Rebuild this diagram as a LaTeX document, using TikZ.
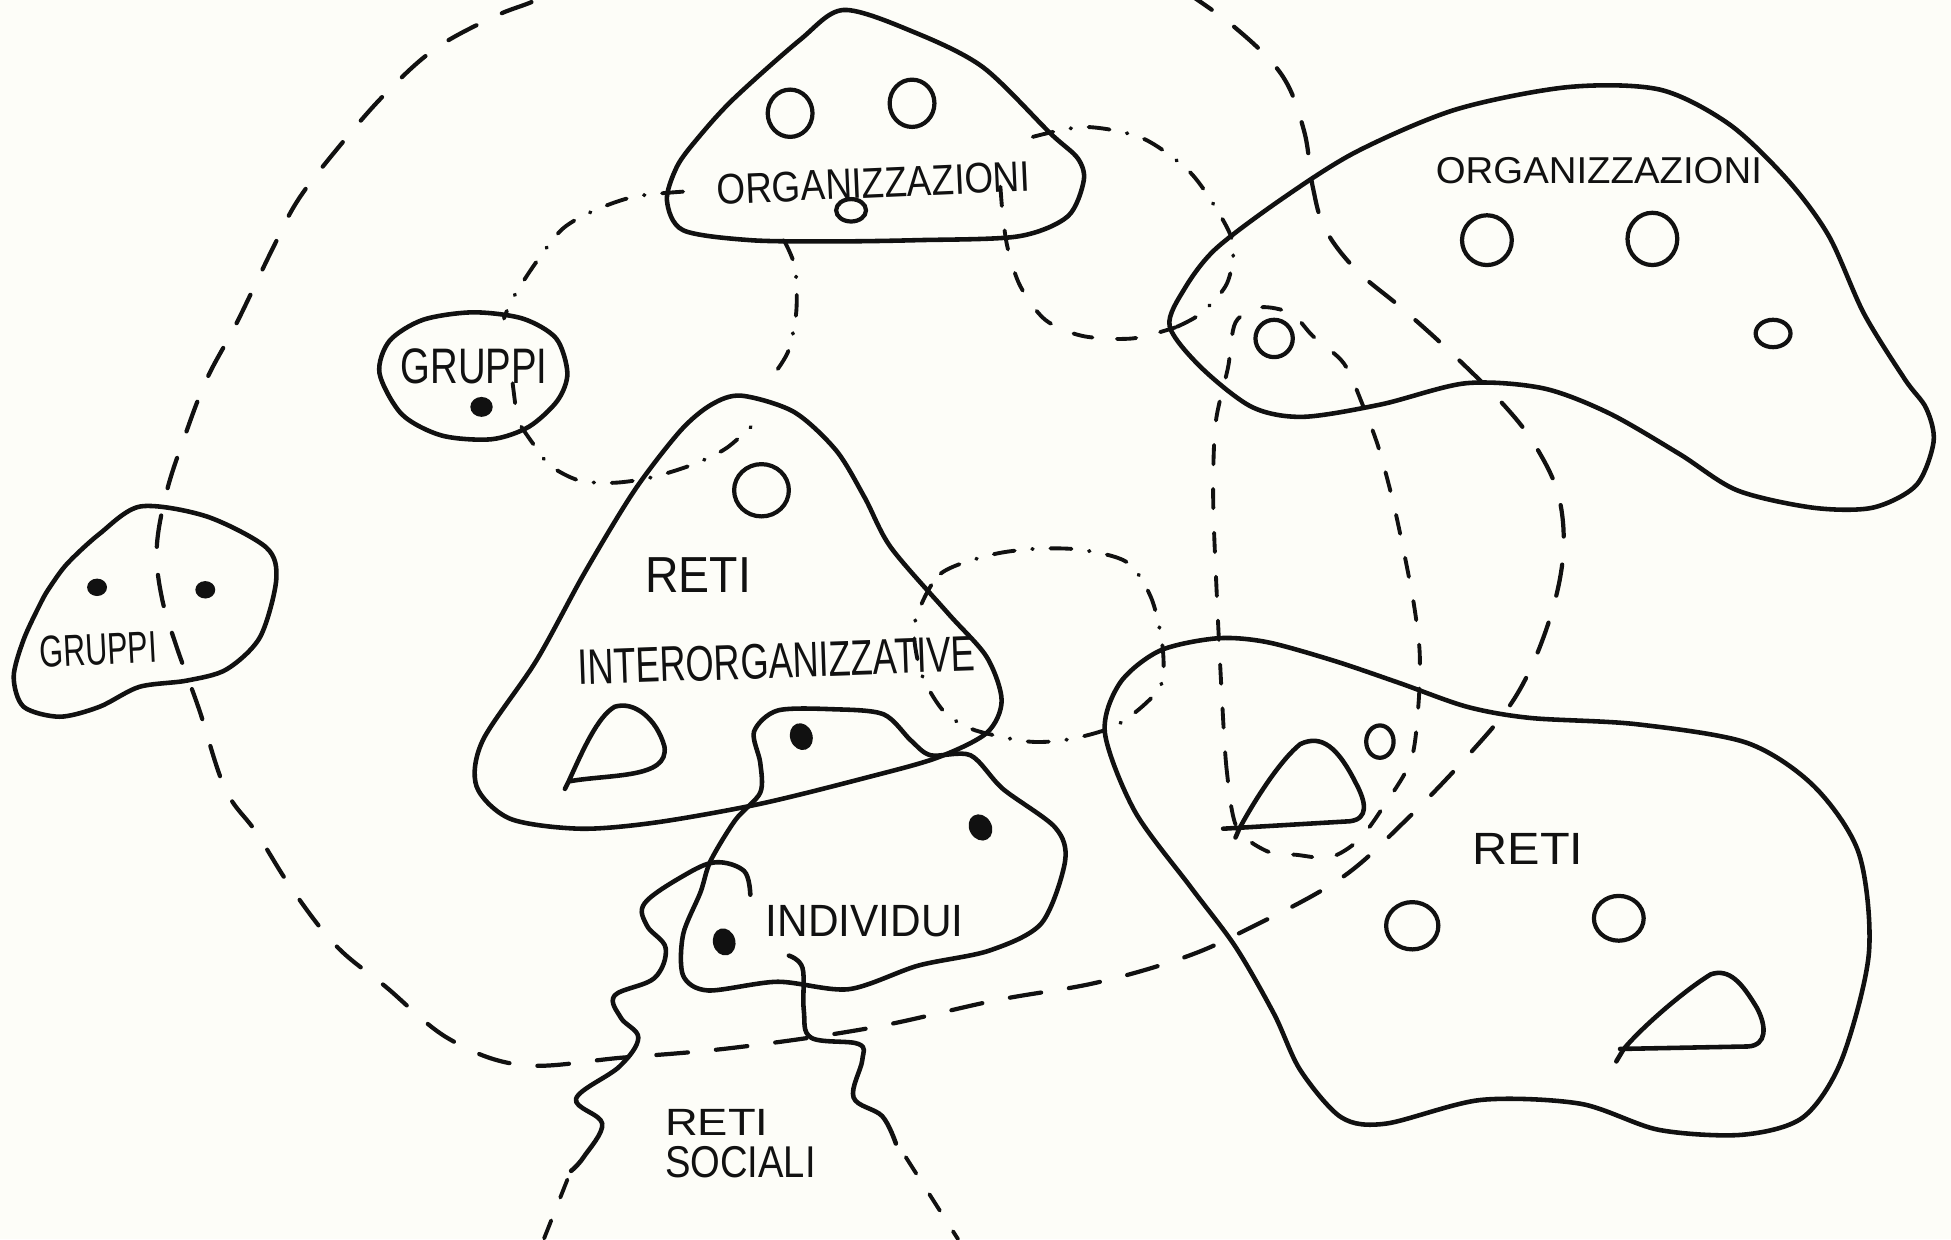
\documentclass[tikz,border=0pt]{standalone}
\usepackage{fontspec}
\usepackage{graphicx}
\newfontfamily\handfont{Liberation Sans}
\definecolor{paper}{HTML}{FDFDF8}
\definecolor{ink}{HTML}{111111}
\newlength{\upx}
\setlength{\upx}{0.1244mm}
\newcommand{\scrawl}[3]{\resizebox{#1\upx}{#2\upx}{\handfont #3}}
\tikzset{
  blobline/.style={draw=ink,line width=1.3pt,line join=round,line cap=round},
  holeline/.style={draw=ink,line width=1.2pt},
  dotmark/.style={fill=ink},
  bigdash/.style={draw=ink,line width=1.2pt,line cap=round,dash pattern=on 9pt off 8pt},
  linkdash/.style={draw=ink,line width=1.1pt,line cap=round,dash pattern=on 5.5pt off 7pt},
  linkdot/.style={draw=ink,line width=1.1pt,line cap=round,dash pattern=on 6pt off 5pt on 0.2pt off 5pt},
  handlabel/.style={inner sep=0pt,text=ink}
}
\begin{document}
\begin{tikzpicture}[x=0.1244mm,y=-0.1244mm]
  \useasboundingbox (0,0) rectangle (1568,996);
  \fill[paper] (0,0) rectangle (1568,996);
  \clip (0,0) rectangle (1568,996);

  % outer ring
  \draw[bigdash] plot[smooth,tension=0.6] coordinates {
    (470,-20) (431,0) (398,13) (350,39) (310,75) (274,116) (240,160) (219,200)
    (190,260) (166,305) (148,352) (134,395) (126,440) (130,480) (142,520)
    (160,570) (181,634) (206,669) (235,715) (270,760) (310,793) (361,835)
    (420,856) (500,850) (590,842) (700,826) (800,804) (880,790) (950,770)
    (1000,748) (1076,707) (1128,661) (1180,607) (1218,560) (1243,505)
    (1256,449) (1253,400) (1235,360) (1210,327) (1168,285) (1127,248)
    (1090,217) (1065,184) (1055,150) (1048,105) (1030,60) (990,20) (940,-15)};

  % organizzazioni (top)
  \draw[blobline] plot[smooth cycle] coordinates {
    (678,8) (643,32) (589,80) (560,112) (544,134) (536,161) (549,185)
    (603,193) (670,194) (737,193) (818,190) (858,174) (871,145) (866,127)
    (844,107) (790,54) (735,26)};
  \draw[holeline] (635,91) ellipse [x radius=18, y radius=19];
  \draw[holeline] (733,83) ellipse [x radius=18, y radius=19];
  \draw[holeline] (684,169) ellipse [x radius=12, y radius=9];
  \node[handlabel,rotate=2.5] (orgtoplabel) at (702,147) {\scrawl{252}{24}{ORGANIZZAZIONI}};

  % organizzazioni (right)
  \draw[blobline] plot[smooth cycle] coordinates {
    (940,262) (965,295) (1006,327) (1047,335) (1110,325) (1178,308)
    (1240,312) (1293,332) (1350,365) (1396,394) (1457,408) (1505,408)
    (1540,390) (1554,355) (1548,328) (1531,305) (1498,252) (1470,190)
    (1437,145) (1390,100) (1334,72) (1260,70) (1170,88) (1090,122)
    (1030,160) (977,200) (952,232)};
  \draw[holeline] (1195,193) ellipse [x radius=20, y radius=20];
  \draw[holeline] (1328,192) ellipse [x radius=20, y radius=21];
  \draw[holeline] (1425,268) ellipse [x radius=14, y radius=11];
  \draw[holeline] (1024,272) ellipse [x radius=15, y radius=15];
  \node[handlabel] (orgrightlabel) at (1285,137) {\scrawl{262}{21}{ORGANIZZAZIONI}};

  % gruppi (small)
  \draw[blobline] plot[smooth cycle] coordinates {
    (305,300) (313,274) (340,257) (380,251) (420,256) (447,272) (456,300)
    (448,322) (425,343) (395,353) (355,350) (323,333)};
  \fill[dotmark] (387,327) ellipse [x radius=9, y radius=8];
  \draw[blobline,line width=1.1pt] (412,308) -- (414,324);
  \node[handlabel] (grpsmalllabel) at (381,294) {\scrawl{118}{28}{GRUPPI}};

  % gruppi (left)
  \draw[blobline] plot[smooth cycle] coordinates {
    (113,407) (166,415) (214,440) (222,466) (209,512) (182,538) (150,547)
    (112,552) (80,568) (48,576) (19,568) (11,544) (19,514) (33,484)
    (40,472) (54,453) (80,429)};
  \fill[dotmark] (78,472) ellipse [x radius=8, y radius=7];
  \fill[dotmark] (165,474) ellipse [x radius=8, y radius=7];
  \node[handlabel,rotate=3] (grpleftlabel) at (79,522) {\scrawl{94}{25}{GRUPPI}};

  % reti interorganizzative
  \draw[blobline] plot[smooth cycle] coordinates {
    (596,318) (638,331) (672,362) (695,400) (716,440) (762,493) (793,528)
    (805,563) (793,589) (753,609) (696,625) (611,646) (527,661) (466,666)
    (410,658) (383,632) (388,595) (431,531) (470,460) (510,394) (547,346)
    (572,325)};
  \draw[holeline] (612,394) ellipse [x radius=22, y radius=21];
  \draw[blobline] (457,628) .. controls (490,622) and (538,626) .. (534,600)
    .. controls (528,578) and (510,563) .. (494,568)
    .. controls (480,576) and (468,604) .. (457,628) -- (454,634);
  \node[handlabel] (retiinterlabel) at (561,462) {\scrawl{85}{28}{RETI}};
  \node[handlabel,rotate=2] (interlabel) at (624,531) {\scrawl{320}{28}{INTERORGANIZZATIVE}};

  % individui
  \draw[blobline] plot[smooth cycle] coordinates {
    (606,588) (625,571) (670,570) (710,574) (732,595) (748,607) (780,607)
    (806,634) (848,665) (856,692) (837,742) (795,764) (738,776) (682,795)
    (625,789) (569,796) (549,784) (549,751) (563,717) (571,692) (591,659)
    (611,637) (611,613)};
  \fill[dotmark,rotate around={20:(644,592)}] (644,592) ellipse [x radius=9, y radius=11];
  \fill[dotmark,rotate around={30:(788,665)}] (788,665) ellipse [x radius=9, y radius=11];
  \fill[dotmark,rotate around={15:(582,757)}] (582,757) ellipse [x radius=9, y radius=11];
  \node[handlabel] (indivlabel) at (695,740) {\scrawl{159}{25}{INDIVIDUI}};

  % reti sociali
  \draw[blobline] plot[smooth,tension=0.6] coordinates {
    (603,719) (598,700) (575,693) (549,704) (518,726) (520,744) (535,762)
    (526,786) (494,800) (499,818) (513,834) (498,857) (463,883) (484,903)
    (469,930) (459,941)};
  \draw[linkdash] (456,948) -- (437,996);
  \draw[blobline] plot[smooth,tension=0.6] coordinates {
    (634,768) (645,778) (646,812) (652,834) (690,839) (693,852) (686,882)
    (709,897) (720,919)};
  \draw[linkdash] (728,930) -- (770,996);
  \node[handlabel] (socialtop) at (576,902) {\scrawl{83}{21}{RETI}};
  \node[handlabel] (socialbottom) at (595,934) {\scrawl{121}{25}{SOCIALI}};

  % reti (right)
  \draw[blobline] plot[smooth cycle] coordinates {
    (888,589) (900,549) (932,523) (978,513) (1018,516) (1072,531)
    (1125,549) (1179,568) (1230,577) (1315,582) (1404,597) (1458,632)
    (1494,686) (1502,766) (1480,852) (1449,898) (1400,912) (1333,908)
    (1270,887) (1190,884) (1114,903) (1078,898) (1045,860) (1024,815)
    (993,761) (957,713) (912,652)};
  \draw[blobline] (983,666) -- (1085,660) .. controls (1100,658) and (1098,645) .. (1090,630)
    .. controls (1075,600) and (1062,590) .. (1045,598)
    .. controls (1030,610) and (1010,640) .. (996,666) -- (993,673);
  \draw[holeline] (1109,596) ellipse [x radius=11, y radius=13];
  \draw[holeline] (1135,744) ellipse [x radius=21, y radius=19];
  \draw[holeline] (1301,738) ellipse [x radius=20, y radius=18];
  \draw[blobline] (1302,843) -- (1405,841) .. controls (1420,840) and (1420,825) .. (1412,810)
    .. controls (1400,790) and (1390,778) .. (1375,783)
    .. controls (1355,795) and (1320,825) .. (1305,843) -- (1299,853);
  \node[handlabel] (retirightlabel) at (1228,682) {\scrawl{89}{25}{RETI}};

  % links between organizzazioni
  \draw[linkdash] plot[smooth] coordinates {
    (804,150) (806,174) (810,200) (820,230) (840,257) (870,270) (910,272) (945,263)};
  \draw[linkdot] plot[smooth] coordinates {
    (830,110) (872,102) (918,111) (955,137) (977,167) (991,196) (986,228) (965,252) (945,263)};

  % links round gruppi
  \draw[linkdot] plot[smooth] coordinates {
    (549,154) (510,158) (478,169) (452,184) (430,212) (412,240) (405,256)};
  \draw[linkdot] plot[smooth] coordinates {
    (419,343) (428,356) (442,374) (465,386) (493,388) (522,384) (555,374) (584,360) (612,335)};
  \draw[linkdot] plot[smooth] coordinates {
    (630,193) (639,215) (640,250) (634,281) (624,298)};

  % loop at reti interorganizzative
  \draw[linkdot] plot[smooth cycle] coordinates {
    (737,494) (756,461) (796,446) (833,441) (870,442) (906,452) (925,480)
    (934,517) (934,548) (920,566) (895,584) (860,594) (827,596) (784,587)
    (762,575) (750,560) (740,540) (735,515)};

  % loop between organizzazioni and reti
  \draw[linkdash] plot[smooth cycle] coordinates {
    (994,665) (986,620) (982,560) (978,480) (975,400) (977,340) (987,295)
    (993,259) (1013,247) (1038,252) (1055,270) (1080,292) (1095,325)
    (1108,360) (1120,405) (1130,452) (1137,490) (1141,525) (1140,566)
    (1134,611) (1112,648) (1092,675) (1069,689) (1042,687) (1018,684)};
\end{tikzpicture}
\end{document}
